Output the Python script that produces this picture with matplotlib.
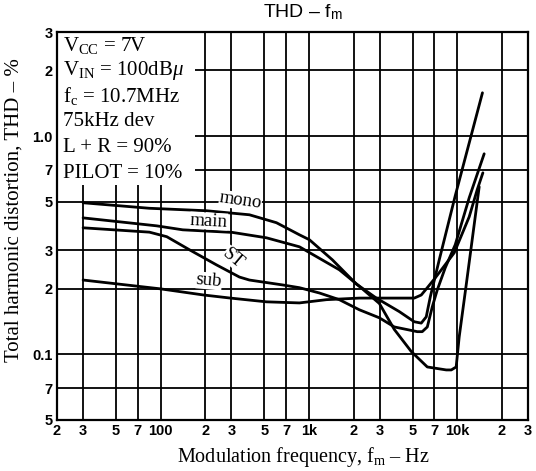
import matplotlib
matplotlib.use("Agg")
import matplotlib.pyplot as plt
from matplotlib.patches import Rectangle
from matplotlib.ticker import FixedLocator, FixedFormatter, NullLocator

plt.rcParams["mathtext.fontset"] = "custom"
plt.rcParams["mathtext.rm"] = "Liberation Serif"
plt.rcParams["mathtext.it"] = "Liberation Serif:italic"
plt.rcParams["mathtext.sf"] = "Liberation Sans"

# THD (%) against modulation frequency (Hz), one pair per curve
mono_f = [30, 84, 204, 397, 604, 863, 1008, 1440, 2088, 2849, 4066, 5133, 5722, 6183, 6580, 7566, 9700, 14800]
mono_thd = [0.495, 0.467, 0.455, 0.436, 0.401, 0.353, 0.335, 0.271, 0.210, 0.181, 0.157, 0.141, 0.139, 0.1485, 0.183, 0.271, 0.533, 1.58]

main_f = [30, 94, 141, 305, 517, 863, 1604, 2188, 2985, 3766, 4900, 6286, 8433, 9120, 9840, 10310, 11500, 14070]
main_thd = [0.422, 0.388, 0.372, 0.362, 0.342, 0.311, 0.244, 0.205, 0.171, 0.130, 0.103, 0.0875, 0.0848, 0.0848, 0.0875, 0.120, 0.208, 0.586]

st_f = [30, 84, 110, 157, 238, 340, 397, 663, 863, 1177, 1604, 2188, 2985, 3766, 5379, 5810, 6286, 6790, 7333, 8300, 9700, 12050, 15200]
st_thd = [0.380, 0.363, 0.346, 0.301, 0.257, 0.226, 0.219, 0.208, 0.202, 0.191, 0.178, 0.160, 0.147, 0.1335, 0.127, 0.127, 0.1335, 0.165, 0.197, 0.249, 0.318, 0.522, 0.83]

sub_f = [30, 100, 195, 296, 517, 863, 1312, 2188, 5133, 5722, 6286, 7110, 9550, 12050, 13640, 14900]
sub_thd = [0.219, 0.1995, 0.187, 0.181, 0.174, 0.172, 0.178, 0.181, 0.181, 0.187, 0.202, 0.224, 0.292, 0.427, 0.568, 0.679]

x_ticks = [20, 30, 50, 70, 100, 200, 300, 500, 700, 1000, 2000, 3000, 5000, 7000, 10000, 20000, 30000]
x_labels = ["2", "3", "5", "7", "100", "2", "3", "5", "7", "1k", "2", "3", "5", "7", "10k", "2", "3"]
y_ticks = [0.05, 0.07, 0.1, 0.2, 0.3, 0.5, 0.7, 1.0, 2, 3]
y_labels = ["5", "7", "0.1", "2", "3", "5", "7", "1.0", "2", "3"]

conditions = [
    r"V$_{\mathrm{CC}}$ = 7V",
    r"V$_{\mathrm{IN}}$ = 100dB$\mathit{\mu}$",
    r"f$_{\mathrm{c}}$ = 10.7MHz",
    "75kHz dev",
    "L + R = 90%",
    "PILOT = 10%",
]

serif = ["Liberation Serif", "DejaVu Serif"]
tickfont = dict(family=["Liberation Sans Narrow", "Liberation Sans"], weight="bold", size=10.5)

fig = plt.figure(figsize=(5.36, 4.71), dpi=100)
ax = fig.add_axes([0.1063, 0.1083, 0.8787, 0.8237])
ax.set_xscale("log")
ax.set_yscale("log")
ax.set_xlim(20, 30000)
ax.set_ylim(0.05, 3)

ax.xaxis.set_major_locator(FixedLocator(x_ticks))
ax.xaxis.set_major_formatter(FixedFormatter(x_labels))
ax.xaxis.set_minor_locator(NullLocator())
ax.yaxis.set_major_locator(FixedLocator(y_ticks))
ax.yaxis.set_major_formatter(FixedFormatter(y_labels))
ax.yaxis.set_minor_locator(NullLocator())
ax.tick_params(length=0, pad=3)
for lab in ax.get_xticklabels() + ax.get_yticklabels():
    lab.set_fontproperties(tickfont)

ax.set_axisbelow(True)
ax.grid(True, color="black", linewidth=1.3)
for sp in ax.spines.values():
    sp.set_linewidth(1.6)

# blank area behind the test conditions
ax.add_patch(Rectangle((20, 0.6), 150, 2.4, facecolor="white", edgecolor="none", zorder=1))

for f, thd in [(mono_f, mono_thd), (main_f, main_thd), (st_f, st_thd), (sub_f, sub_thd)]:
    ax.plot(f, thd, color="black", linewidth=2.0, solid_joinstyle="round", solid_capstyle="round", zorder=2)

lbl = dict(family=serif, fontsize=13.5, ha="center", va="center", zorder=3,
           bbox=dict(facecolor="white", edgecolor="none", pad=0))
ax.text(345, 0.505, "mono", rotation=-8, **lbl)
ax.text(212, 0.408, "main", rotation=-3, **lbl)
ax.text(310, 0.276, "ST", rotation=-40, **lbl)
ax.text(212, 0.217, "sub", rotation=-5, **lbl)

for i, line in enumerate(conditions):
    ax.text(0.013, 0.9665 - i * 0.066, line, transform=ax.transAxes, family=serif,
            fontsize=15, ha="left", va="center", zorder=3)

fig.text(303 / 536, 1 - 12 / 471, r"THD – f$_{\mathsf{m}}$", family="Liberation Sans",
         fontsize=14, ha="center", va="center")
fig.text(303 / 536, 1 - 457 / 471, r"Modulation frequency, f$_{\mathrm{m}}$ – Hz",
         family=serif, fontsize=14.5, ha="center", va="center")
fig.text(14 / 536, 1 - 210 / 471, "Total harmonic distortion, THD – %",
         family=serif, fontsize=15, rotation=90, ha="center", va="center")

fig.savefig("out.png", dpi=100)
